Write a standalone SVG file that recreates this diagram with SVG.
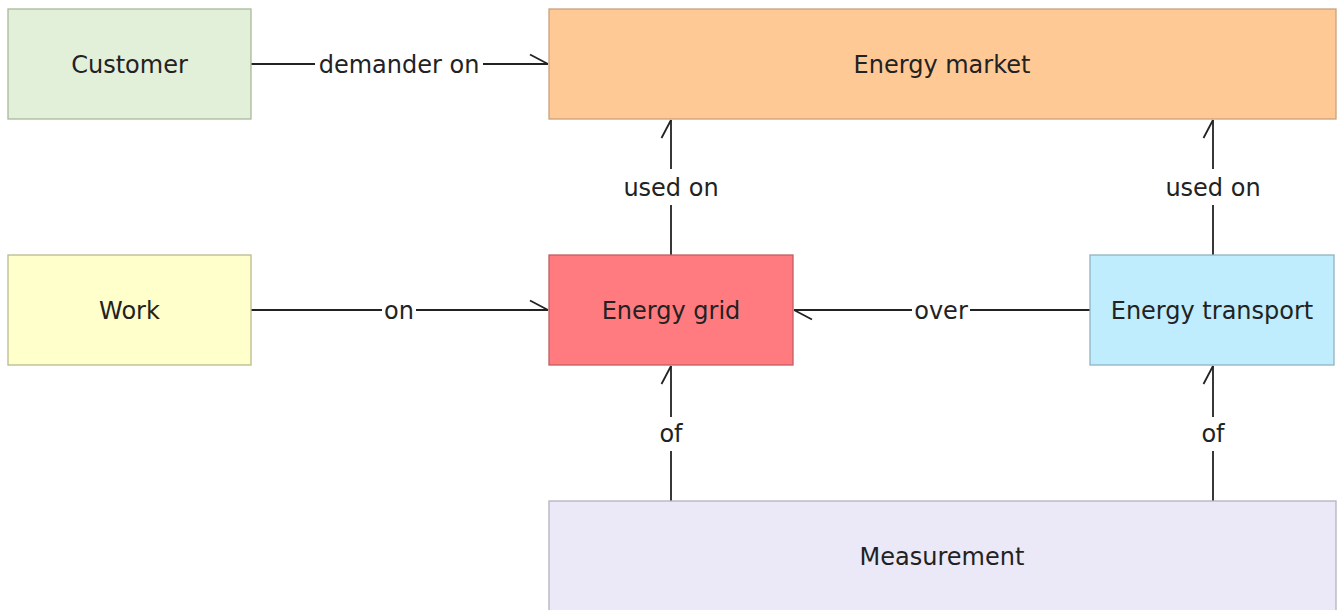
<svg xmlns="http://www.w3.org/2000/svg" width="1340" height="610" viewBox="0 0 1340 610">
<style>
.n{stroke-width:1.3}
.t{font-family:"DejaVu Sans",sans-serif;font-size:24px;fill:#222;text-anchor:middle}
.c{stroke:#222;stroke-width:1.8;fill:none;marker-end:url(#half)}
.lb{fill:#fff}
</style>
<defs>
<marker id="half" markerUnits="userSpaceOnUse" viewBox="-22 -12 26 16" refX="0" refY="0" markerWidth="26" markerHeight="16" orient="auto" overflow="visible">
<path d="M-18,-9.5 L0,0" stroke="#222" stroke-width="1.8" fill="none"/>
</marker>
</defs>
<rect width="1340" height="610" fill="#fff"/>
<g id="connectors">
<path class="c" d="M251,64 H548"/>
<path class="c" d="M671,255 V120"/>
<path class="c" d="M1213,255 V120"/>
<path class="c" d="M251,310 H548"/>
<path class="c" d="M1090,310 H794"/>
<path class="c" d="M671,501 V366"/>
<path class="c" d="M1213,501 V366"/>
<rect class="lb" x="315" y="50" width="168" height="28"/>
<text class="t" x="399" y="72.5">demander on</text>
<rect class="lb" x="619" y="169" width="104" height="36"/>
<text class="t" x="671" y="195.5">used on</text>
<rect class="lb" x="1161" y="169" width="104" height="36"/>
<text class="t" x="1213" y="195.5">used on</text>
<rect class="lb" x="382" y="296" width="34" height="28"/>
<text class="t" x="399" y="318.5">on</text>
<rect class="lb" x="912" y="296" width="58" height="28"/>
<text class="t" x="941" y="318.5">over</text>
<rect class="lb" x="658" y="417" width="26" height="34"/>
<text class="t" x="671" y="441.5">of</text>
<rect class="lb" x="1200" y="417" width="26" height="34"/>
<text class="t" x="1213" y="441.5">of</text>
</g>
<g id="customer">
<rect class="n" x="8" y="9" width="243" height="110" fill="#e2efd9" stroke="#a9b99b"/>
<text class="t" x="129.5" y="72.5">Customer</text>
</g>
<g id="energy-market">
<rect class="n" x="549" y="9" width="787" height="110" fill="#ffc995" stroke="#c9a27a"/>
<text class="t" x="942" y="72.5">Energy market</text>
</g>
<g id="work">
<rect class="n" x="8" y="255" width="243" height="110" fill="#ffffcc" stroke="#b9b98f"/>
<text class="t" x="129.5" y="318.5">Work</text>
</g>
<g id="energy-grid">
<rect class="n" x="549" y="255" width="244" height="110" fill="#ff7b7f" stroke="#c45d61"/>
<text class="t" x="671" y="318.5">Energy grid</text>
</g>
<g id="energy-transport">
<rect class="n" x="1090" y="255" width="244" height="110" fill="#bfedfd" stroke="#8fb3c2"/>
<text class="t" x="1212" y="318.5">Energy transport</text>
</g>
<g id="measurement">
<rect class="n" x="549" y="501" width="787" height="115" fill="#ebe9f8" stroke="#b3b1c2"/>
<text class="t" x="942" y="564.5">Measurement</text>
</g>
</svg>
